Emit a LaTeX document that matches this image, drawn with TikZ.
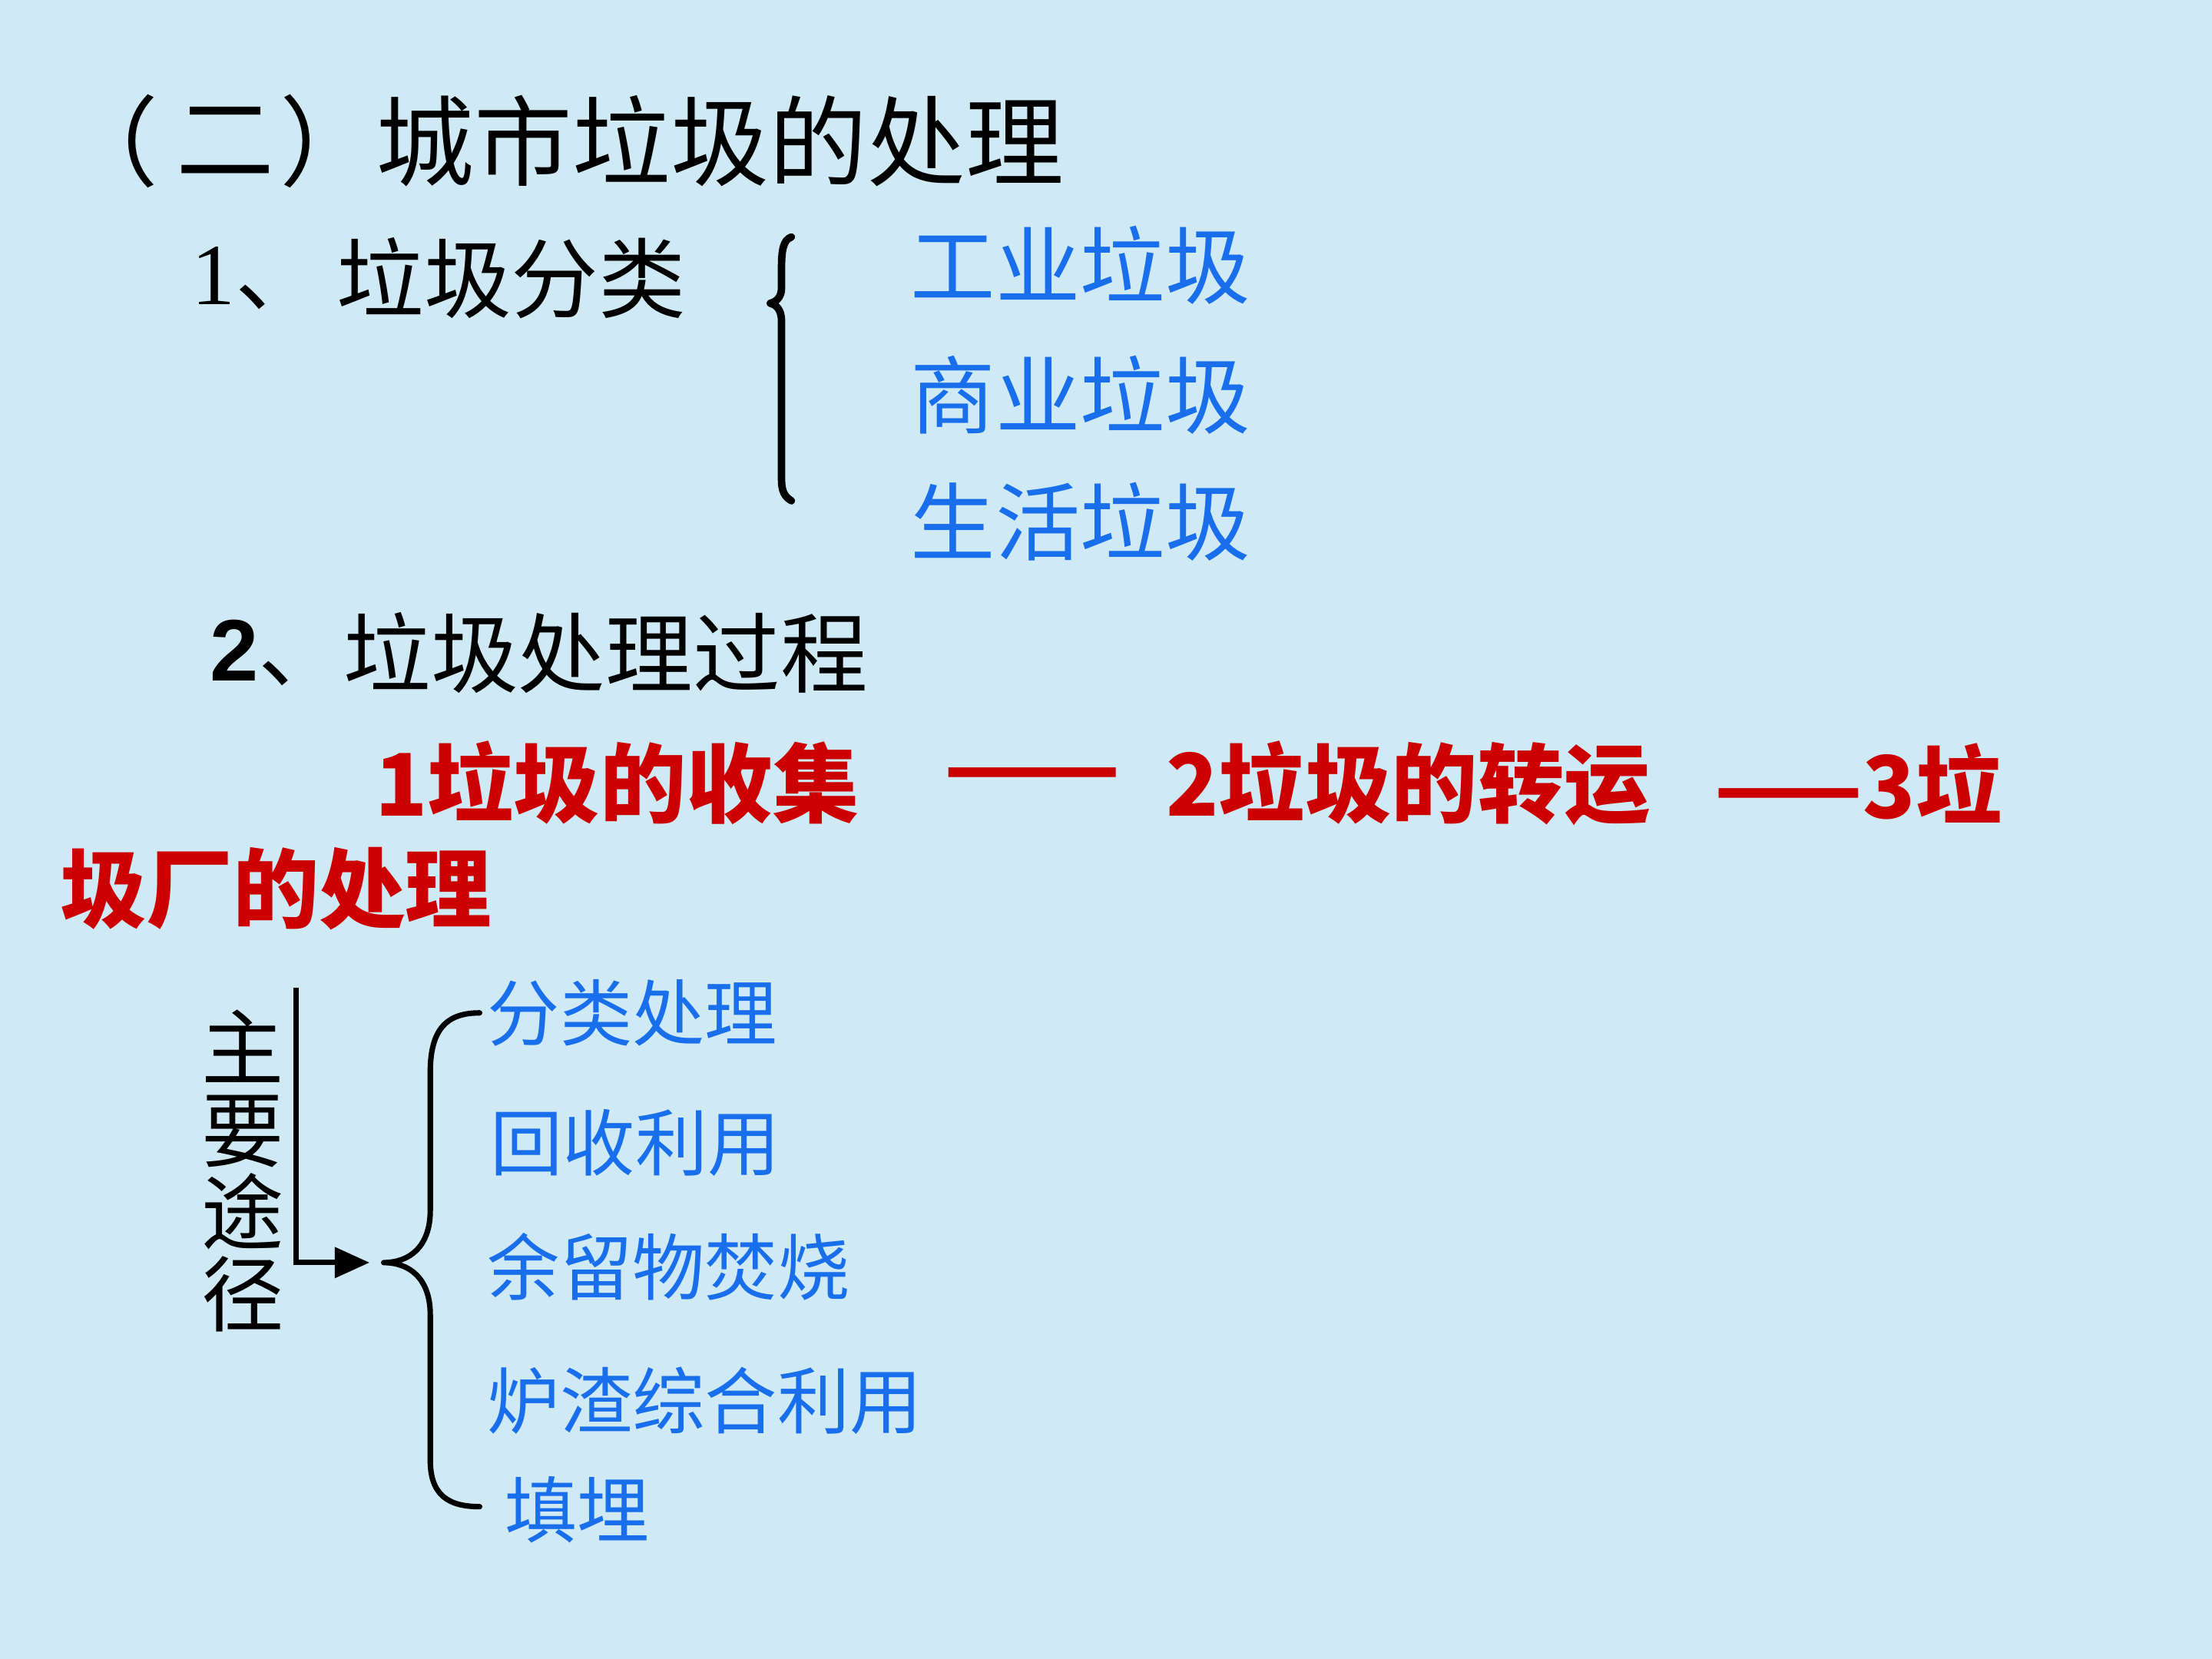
\documentclass[tikz,border=0pt]{standalone}
\usepackage{fontspec}
\setmainfont{Liberation Serif}
\newfontfamily\cjk{Noto Sans CJK SC}
\newfontfamily\arial{Liberation Sans}
\usetikzlibrary{arrows.meta}
\definecolor{bgblue}{RGB}{208,234,245}
\definecolor{txtblue}{RGB}{25,110,235}
\definecolor{txtred}{RGB}{204,0,0}
\tikzset{
  lbl/.style={inner sep=0pt, anchor=west},
  title/.style={lbl, font=\cjk\fontsize{19.8}{21}\selectfont, text=black},
  head/.style={lbl, font=\cjk\fontsize{17.6}{18}\selectfont, text=black},
  bluebig/.style={lbl, font=\cjk\fontsize{17.1}{18}\selectfont, text=txtblue},
  bluesmall/.style={lbl, font=\cjk\fontsize{14.6}{16}\selectfont, text=txtblue},
  redtxt/.style={lbl, font=\cjk\bfseries\fontsize{17.4}{18}\selectfont, text=txtred},
  bracestyle/.style={line width=1.5pt, line cap=round, line join=round},
  brace2/.style={line width=1.1pt, line cap=round, line join=round},
}
\begin{document}
\begin{tikzpicture}[x=0.01cm, y=-0.01cm]
\fill[bgblue] (0,0) rectangle (1568,1176);
\useasboundingbox (0,0) rectangle (1568,1176);

\node[title] (tp1) at (42,100) {（};
\node[title, anchor=center] (tp2) at (160,100) {二};
\node[title] (tp3) at (198,100) {）};
\node[title] (t) at (266,100) {城市垃圾的处理};

\node[head] (h1n) at (135,197) {{\rmfamily 1}、};
\node[head] (h1) at (238,197) {垃圾分类};
\node[bluebig] (b1) at (645,188) {工业垃圾};
\node[bluebig] (b2) at (645,280) {商业垃圾};
\node[bluebig] (b3) at (645,370) {生活垃圾};

\draw[bracestyle] (561,168) .. controls (555,170) and (554,178) .. (554,190) -- (554,204)
  .. controls (554,211) and (550,214) .. (546,215)
  .. controls (550,216) and (554,219) .. (554,228) -- (554,340)
  .. controls (554,348) and (556,352) .. (561,355);

\node[head] (h2n) at (148,463) {{\arial\bfseries 2}、};
\node[head] (h2) at (243,463) {垃圾处理过程};

\node[redtxt] (r1) at (265,555) {1垃圾的收集};
\node[redtxt, xscale=1.2] (d1) at (668,555) {——};
\node[redtxt] (r2) at (826,555) {2垃圾的转运};
\node[redtxt] (r3) at (1215,555) {——3垃};
\node[redtxt] (r4) at (42,630) {圾厂的处理};

\node[inner sep=0pt, align=center, font=\cjk\fontsize{16.6}{16.6}\selectfont] (v) at (172,830) {主\\要\\途\\径};

\coordinate (ltop) at (210,700);
\coordinate (btip) at (272,895);
\draw[line width=1.1pt, -{Triangle[length=7pt,width=6pt]}] (ltop) |- ([xshift=-0.1cm]btip);

\draw[brace2] (340,718) .. controls (318,718) and (305,728) .. (305,760) -- (305,858)
  .. controls (305,884) and (290,895) .. (btip)
  .. controls (290,895) and (305,906) .. (305,932) -- (305,1035)
  .. controls (305,1060) and (318,1068) .. (340,1068);

\node[bluesmall] (s1) at (345,718) {分类处理};
\node[bluesmall] (s2) at (347,810) {回收利用};
\node[bluesmall] (s3) at (345,898) {余留物焚烧};
\node[bluesmall] (s4) at (345,993) {炉渣综合利用};
\node[bluesmall] (s5) at (357,1070) {填埋};
\end{tikzpicture}
\end{document}
